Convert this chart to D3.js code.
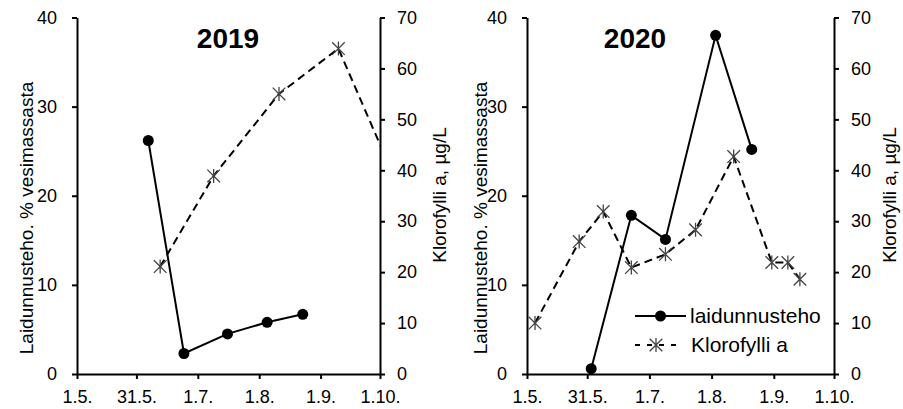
<!DOCTYPE html>
<html>
<head>
<meta charset="utf-8">
<script src="https://cdn.jsdelivr.net/npm/d3@7"></script>
<style>
  body { margin: 0; background: #fff; }
  svg { display: block; font-family: Arial, "Liberation Sans", sans-serif; }
  .axis path, .axis line { stroke: #000; stroke-width: 2; }
  .axis text { font-size: 18px; fill: #000; }
</style>
</head>
<body>
<svg id="chart" width="903" height="409"></svg>
<script>
// x axis ticks (same for both years, day.month.)
const tickMonthDays = ["05-01", "05-31", "07-01", "08-01", "09-01", "10-01"];
const tickLabels = ["1.5.", "31.5.", "1.7.", "1.8.", "1.9.", "1.10."];
const leftTicks = [0, 10, 20, 30, 40];
const rightTicks = [0, 10, 20, 30, 40, 50, 60, 70];

// 2019
const graze2019Dates = ["2019-06-06", "2019-06-24", "2019-07-16", "2019-08-05", "2019-08-23"];
const graze2019 = [26.2, 2.3, 4.5, 5.8, 6.7];
const chl2019Dates = ["2019-06-12", "2019-07-09", "2019-08-11", "2019-09-10", "2019-10-10"];
const chl2019 = [21.1, 38.9, 55.0, 63.9, 37.0];

// 2020
const graze2020Dates = ["2020-06-02", "2020-06-22", "2020-07-09", "2020-08-03", "2020-08-21"];
const graze2020 = [0.6, 17.8, 15.1, 38.0, 25.2];
const chl2020Dates = ["2020-05-05", "2020-05-27", "2020-06-08", "2020-06-22", "2020-07-09",
                      "2020-07-24", "2020-08-12", "2020-08-31", "2020-09-08", "2020-09-14"];
const chl2020 = [10.0, 26.0, 31.9, 20.9, 23.5, 28.3, 42.7, 21.9, 21.9, 18.6];

const parse = d3.utcParse("%Y-%m-%d");
const svg = d3.select("#chart");

const plotTop = 17.5, plotBottom = 374;

const panels = [
  { year: "2019", left: 77, right: 380, gDates: graze2019Dates, g: graze2019, cDates: chl2019Dates, c: chl2019,
    titleX: 228, leftLabelX: 33, rightLabelX: 446, legend: false },
  { year: "2020", left: 527, right: 834, gDates: graze2020Dates, g: graze2020, cDates: chl2020Dates, c: chl2020,
    titleX: 635, leftLabelX: 487, rightLabelX: 896, legend: true }
];

// asterisk marker like the Excel "star"
const star = d3.symbol().type({
  draw(ctx, size) {
    const r = Math.sqrt(size) / 2;
    ctx.moveTo(0, -r); ctx.lineTo(0, r);
    const a = r * 0.9;
    ctx.moveTo(-a, -a); ctx.lineTo(a, a);
    ctx.moveTo(-a, a); ctx.lineTo(a, -a);
  }
}).size(196);

panels.forEach(function (p, i) {
  const x = d3.scaleUtc()
    .domain([parse(p.year + "-05-01"), parse(p.year + "-10-01")])
    .range([p.left, p.right]);
  const yL = d3.scaleLinear().domain([0, 40]).range([plotBottom, plotTop]);
  const yR = d3.scaleLinear().domain([0, 70]).range([plotBottom, plotTop]);

  const clipId = "clip" + i;
  svg.append("clipPath").attr("id", clipId)
    .append("rect")
    .attr("x", p.left).attr("y", 0)
    .attr("width", p.right - p.left).attr("height", plotBottom + 1);

  // axes
  svg.append("g").attr("class", "axis")
    .attr("transform", "translate(0," + plotBottom + ")")
    .call(d3.axisBottom(x)
      .tickValues(tickMonthDays.map(d => parse(p.year + "-" + d)))
      .tickFormat((d, j) => tickLabels[j])
      .tickSize(5).tickSizeOuter(0).tickPadding(11));

  svg.append("g").attr("class", "axis")
    .attr("transform", "translate(" + p.left + ",0)")
    .call(d3.axisLeft(yL).tickValues(leftTicks).tickSize(5).tickSizeOuter(0).tickPadding(15));

  svg.append("g").attr("class", "axis")
    .attr("transform", "translate(" + p.right + ",0)")
    .call(d3.axisRight(yR).tickValues(rightTicks).tickSize(5).tickSizeOuter(0).tickPadding(12));

  // title
  svg.append("text")
    .attr("x", p.titleX).attr("y", 48)
    .attr("text-anchor", "middle")
    .attr("font-size", 28).attr("font-weight", "bold")
    .text(p.year);

  // axis titles
  svg.append("text")
    .attr("transform", "translate(" + p.leftLabelX + ",218) rotate(-90)")
    .attr("text-anchor", "middle").attr("font-size", 19)
    .text("Laidunnusteho. % vesimassasta");
  svg.append("text")
    .attr("transform", "translate(" + p.rightLabelX + ",195) rotate(-90)")
    .attr("text-anchor", "middle").attr("font-size", 19)
    .text("Klorofylli a, µg/L");

  const plot = svg.append("g").attr("clip-path", "url(#" + clipId + ")");

  // chlorophyll (dashed, star markers)
  const chl = p.cDates.map((d, j) => ({ date: parse(d), v: p.c[j] }));
  plot.append("path")
    .datum(chl)
    .attr("fill", "none").attr("stroke", "#000").attr("stroke-width", 2)
    .attr("stroke-dasharray", "8,5")
    .attr("d", d3.line().x(d => x(d.date)).y(d => yR(d.v)));
  plot.selectAll(".star")
    .data(chl)
    .enter().append("path")
    .attr("class", "star")
    .attr("transform", d => "translate(" + x(d.date) + "," + yR(d.v) + ")")
    .attr("d", star)
    .attr("fill", "none").attr("stroke", "#444").attr("stroke-width", 1.3);

  // grazing (solid, filled circles)
  const gr = p.gDates.map((d, j) => ({ date: parse(d), v: p.g[j] }));
  plot.append("path")
    .datum(gr)
    .attr("fill", "none").attr("stroke", "#000").attr("stroke-width", 2)
    .attr("d", d3.line().x(d => x(d.date)).y(d => yL(d.v)));
  svg.selectAll(".dot" + i)
    .data(gr)
    .enter().append("circle")
    .attr("class", "dot" + i)
    .attr("cx", d => x(d.date)).attr("cy", d => yL(d.v))
    .attr("r", 5.5).attr("fill", "#000");

  if (p.legend) {
    const lg = svg.append("g");
    lg.append("line").attr("x1", 635).attr("x2", 686).attr("y1", 316).attr("y2", 316)
      .attr("stroke", "#000").attr("stroke-width", 2);
    lg.append("circle").attr("cx", 660.5).attr("cy", 316).attr("r", 5.5).attr("fill", "#000");
    lg.append("text").attr("x", 690).attr("y", 316).attr("dy", "0.35em")
      .attr("font-size", 21).text("laidunnusteho");

    lg.append("line").attr("x1", 635).attr("x2", 677).attr("y1", 345).attr("y2", 345)
      .attr("stroke", "#000").attr("stroke-width", 2).attr("stroke-dasharray", "5,7");
    lg.append("path").attr("transform", "translate(656,345)").attr("d", star)
      .attr("fill", "none").attr("stroke", "#444").attr("stroke-width", 1.3);
    lg.append("text").attr("x", 691).attr("y", 345).attr("dy", "0.35em")
      .attr("font-size", 21).text("Klorofylli a");
  }
});
</script>
</body>
</html>
